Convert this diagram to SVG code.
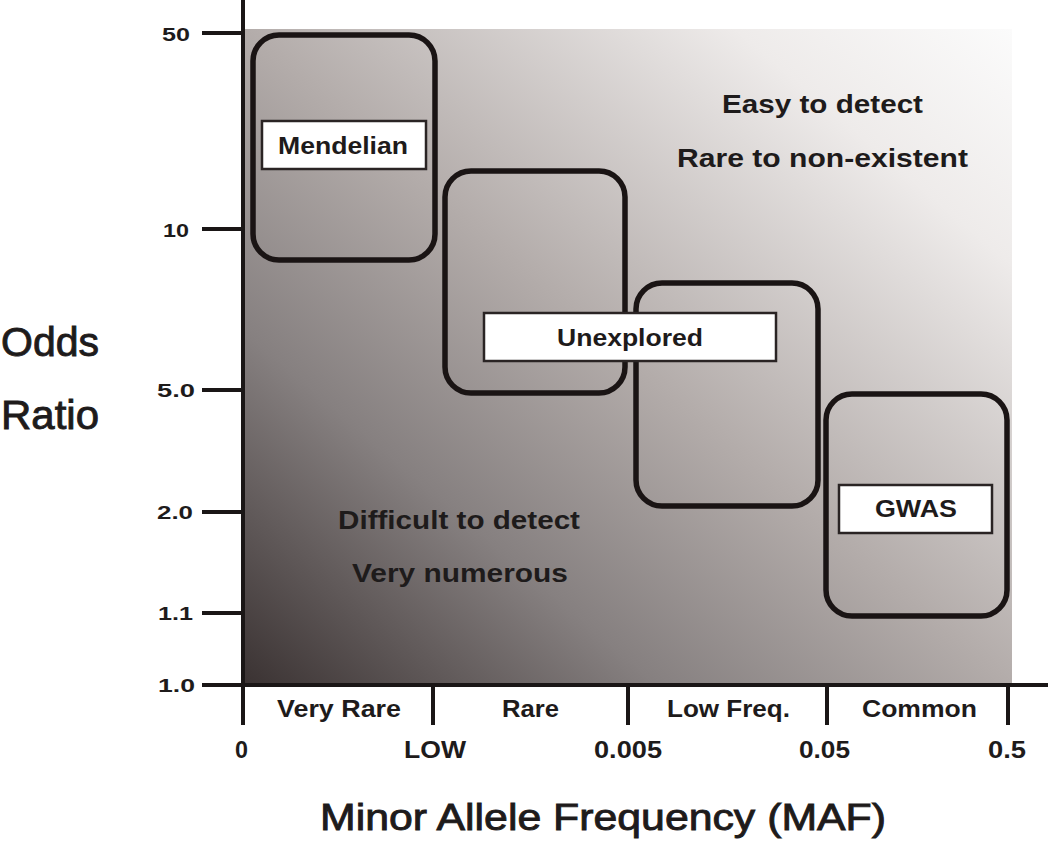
<svg xmlns="http://www.w3.org/2000/svg" width="1050" height="842" viewBox="0 0 1050 842">
<style>
text{font-family:"Liberation Sans",Arial,sans-serif;fill:#1e1b1b}
.t{font-size:19px;font-weight:bold}
.c{font-size:23px;font-weight:bold}
.n{font-size:26px;font-weight:bold}
.big{stroke:#1e1b1b;stroke-width:0.9}
.ax{stroke:#1a1616;stroke-width:4;fill:none}
.box{fill:none;stroke:#1a1414;stroke-width:5.5}
.lab{fill:#fff;stroke:#2a2424;stroke-width:2.5}
</style>
<defs>
<linearGradient id="bg" x1="0" y1="1" x2="1" y2="0">
<stop offset="0" stop-color="#3a3232"/>
<stop offset="0.27" stop-color="#868080"/>
<stop offset="0.5" stop-color="#b3acaa"/>
<stop offset="0.82" stop-color="#eeebea"/>
<stop offset="1" stop-color="#fbfbfb"/>
</linearGradient>
</defs>
<rect width="1050" height="842" fill="#fff"/>
<rect x="243" y="29" width="769" height="656" fill="url(#bg)"/>
<g id="axes">
<path class="ax" d="M243 0V687M241 685H1048"/>
<path class="ax" d="M202 33H243M202 229H243M202 390H243M202 512H243M202 613H243M202 685H243"/>
<path class="ax" d="M243 685V725M433 685V725M628 685V725M827 685V725M1008 685V725"/>
<text class="t" x="162" y="41" textLength="28" lengthAdjust="spacingAndGlyphs">50</text>
<text class="t" x="163" y="237" textLength="26" lengthAdjust="spacingAndGlyphs">10</text>
<text class="t" x="157" y="397" textLength="38" lengthAdjust="spacingAndGlyphs">5.0</text>
<text class="t" x="157" y="519" textLength="36" lengthAdjust="spacingAndGlyphs">2.0</text>
<text class="t" x="158" y="620" textLength="35" lengthAdjust="spacingAndGlyphs">1.1</text>
<text class="t" x="158" y="692" textLength="37" lengthAdjust="spacingAndGlyphs">1.0</text>
<text class="c" x="277" y="717" textLength="124" lengthAdjust="spacingAndGlyphs">Very Rare</text>
<text class="c" x="502" y="717" textLength="57" lengthAdjust="spacingAndGlyphs">Rare</text>
<text class="c" x="667" y="717" textLength="123" lengthAdjust="spacingAndGlyphs">Low Freq.</text>
<text class="c" x="862" y="717" textLength="115" lengthAdjust="spacingAndGlyphs">Common</text>
<text class="c" x="235" y="758" textLength="13" lengthAdjust="spacingAndGlyphs">0</text>
<text class="c" x="404" y="758" textLength="62" lengthAdjust="spacingAndGlyphs">LOW</text>
<text class="c" x="594" y="758" textLength="68" lengthAdjust="spacingAndGlyphs">0.005</text>
<text class="c" x="799" y="758" textLength="51" lengthAdjust="spacingAndGlyphs">0.05</text>
<text class="c" x="988" y="758" textLength="38" lengthAdjust="spacingAndGlyphs">0.5</text>
<text class="big" x="320" y="830" style="font-size:37px" textLength="566" lengthAdjust="spacingAndGlyphs">Minor Allele Frequency (MAF)</text>
<text class="big" x="1" y="356" style="font-size:41px" textLength="98" lengthAdjust="spacingAndGlyphs">Odds</text>
<text class="big" x="1" y="429" style="font-size:41px" textLength="98" lengthAdjust="spacingAndGlyphs">Ratio</text>
</g>
<g id="notes">
<text class="n" x="722" y="113" textLength="201" lengthAdjust="spacingAndGlyphs">Easy to detect</text>
<text class="n" x="677" y="167" textLength="291" lengthAdjust="spacingAndGlyphs">Rare to non-existent</text>
<text class="n" x="338" y="529" textLength="242" lengthAdjust="spacingAndGlyphs">Difficult to detect</text>
<text class="n" x="352" y="582" textLength="216" lengthAdjust="spacingAndGlyphs">Very numerous</text>
</g>
<g id="mendelian">
<rect class="box" x="253" y="35" width="182" height="225" rx="26"/>
<rect class="lab" x="262" y="121" width="164" height="48"/>
<text class="c" x="278" y="154" textLength="130" lengthAdjust="spacingAndGlyphs">Mendelian</text>
</g>
<g id="rare-box">
<rect class="box" x="445" y="171" width="180" height="222" rx="26"/>
</g>
<g id="lowfreq-box">
<rect class="box" x="636" y="283" width="182" height="223" rx="26"/>
</g>
<g id="unexplored">
<rect class="lab" x="484" y="313" width="292" height="48"/>
<text class="c" x="557" y="346" textLength="146" lengthAdjust="spacingAndGlyphs">Unexplored</text>
</g>
<g id="gwas">
<rect class="box" x="826" y="394" width="181" height="222" rx="26"/>
<rect class="lab" x="839" y="485" width="153" height="48"/>
<text class="c" x="875" y="517" textLength="82" lengthAdjust="spacingAndGlyphs">GWAS</text>
</g>
</svg>
